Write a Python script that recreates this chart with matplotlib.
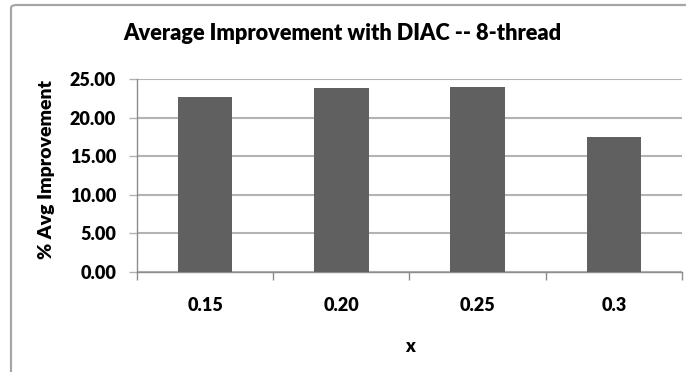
import matplotlib
matplotlib.use("Agg")
import matplotlib.pyplot as plt
from matplotlib.patches import FancyBboxPatch

# Data
categories = ["0.15", "0.20", "0.25", "0.3"]
improvement = [22.67, 23.83, 23.96, 17.50]
yticks = [0, 5, 10, 15, 20, 25]

bar_color = "#606060"
grid_color = "#b3b3b3"
axis_color = "#8c8c8c"

plt.rcParams["font.family"] = ["Lato", "DejaVu Sans"]

W, H = 686, 372
fig = plt.figure(figsize=(W / 100, H / 100), dpi=100)

# Rounded chart frame (runs off the right and bottom edges)
frame = FancyBboxPatch(
    (11 / W, 1 - 5 / H - 1.2), 1.2, 1.2,
    boxstyle="round,pad=0,rounding_size=0.008",
    transform=fig.transFigure, facecolor="white",
    edgecolor="#a6a6a6", linewidth=1.6, zorder=-5,
)
fig.patches.append(frame)

ax = fig.add_axes([137 / W, 1 - 272 / H, 545 / W, 193 / H])
ax.set_zorder(2)
ax.set_facecolor("none")

x = range(len(categories))
ax.bar(x, improvement, width=0.4, color=bar_color, zorder=3)

ax.set_xlim(-0.5, len(categories) - 0.5)
ax.set_ylim(0, 25)

# Horizontal gridlines
ax.set_yticks(yticks, labels=[f"{v:.2f}" for v in yticks])
ax.yaxis.grid(True, color=grid_color, linewidth=1.5, zorder=1)

# Category labels centred, tick marks on the category boundaries
ax.set_xticks(list(x), labels=categories)
ax.tick_params(axis="x", which="major", length=0, pad=18)
ax.set_xticks([i - 0.5 for i in range(len(categories) + 1)], minor=True)
ax.tick_params(axis="x", which="minor", length=6, width=1, color=axis_color,
               direction="out")
ax.tick_params(axis="y", length=6, width=1, color=grid_color, pad=9)

for lbl in ax.get_xticklabels() + ax.get_yticklabels():
    lbl.set_fontsize(13)
    lbl.set_fontweight("heavy")

for side in ["top", "right"]:
    ax.spines[side].set_visible(False)
ax.spines["left"].set_color(axis_color)
ax.spines["bottom"].set_color(axis_color)
ax.spines["left"].set_linewidth(1)
ax.spines["bottom"].set_linewidth(1)

ax.set_xlabel("x", fontsize=13, fontweight="heavy", labelpad=17)
ax.set_ylabel("% Avg Improvement", fontsize=14, fontweight="heavy", labelpad=11)
ax.yaxis.label.set_y(0.53)

fig.text(342 / W, 1 - 34 / H, "Average Improvement with DIAC -- 8-thread",
         ha="center", va="center", fontsize=15.7, fontweight="heavy")

fig.savefig("out.png", dpi=100)
